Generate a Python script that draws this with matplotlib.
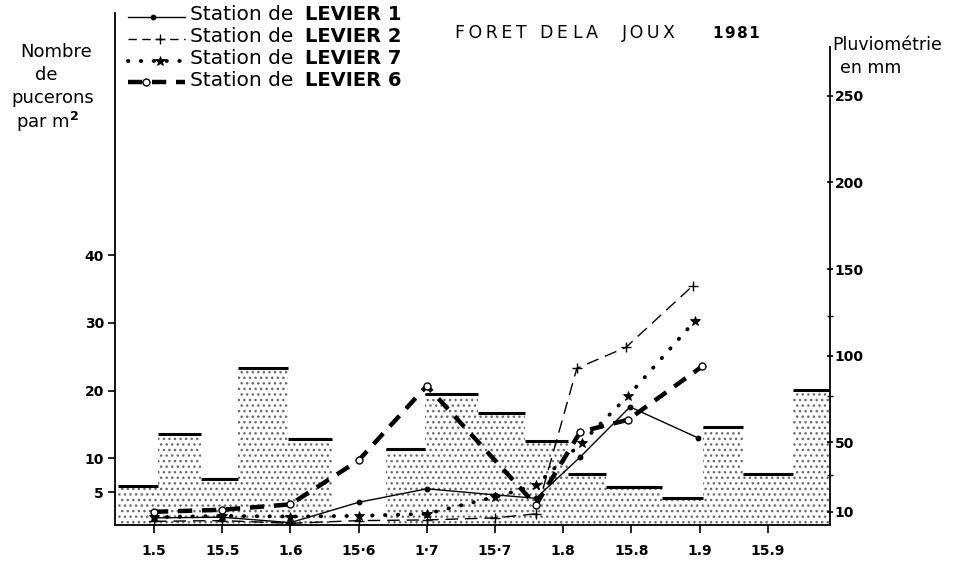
import matplotlib
matplotlib.use("Agg")
import matplotlib.pyplot as plt
from matplotlib.lines import Line2D

# ---------------- data ----------------
tick_labels = ["1.5", "15.5", "1.6", "15·6", "1·7", "15·7", "1.8", "15.8", "1.9", "15.9"]
tick_pos = list(range(10))  # half-month index

# rainfall periods (edges in half-month units) and mm
rain_edges = [-0.53, 0.06, 0.69, 1.23, 1.96, 2.61, 3.40, 3.97, 4.75, 5.44,
              6.07, 6.63, 7.45, 8.05, 8.64, 9.37, 9.91]
rain_mm = [25, 55, 29, 93, 52, 0, 46, 78, 67, 51, 32, 24, 18, 59, 32, 80]

x_s1 = [0, 1, 2, 3, 4, 5, 5.6, 6.25, 6.98, 7.98]
y_s1 = [1.2, 1.3, 0.5, 3.5, 5.5, 4.6, 4.1, 10.2, 17.6, 13.0]

x_s2 = [0, 1, 2, 3, 4, 5, 5.6, 6.2, 6.92, 7.9]
y_s2 = [0.7, 0.8, 0.4, 0.8, 0.9, 1.2, 1.8, 23.3, 26.4, 35.5]

x_s7 = [0, 1, 2, 3, 4, 5, 5.6, 6.27, 6.95, 7.93]
y_s7 = [1.3, 1.5, 1.4, 1.5, 1.8, 4.3, 6.0, 12.3, 19.2, 30.3]

x_s6 = [0, 1, 2, 3, 4, 5.6, 6.25, 6.95, 8.04]
y_s6 = [2.1, 2.4, 3.2, 9.7, 20.7, 3.1, 13.9, 15.7, 23.6]

left_ticks = [5, 10, 20, 30, 40]
right_ticks = [10, 50, 100, 150, 200, 250]
right_minor = [31, 77, 123]

# ---------------- figure ----------------
W, H = 959, 561
fig = plt.figure(figsize=(W / 100, H / 100), dpi=100)
plt.rcParams['hatch.linewidth'] = 1.0

def fx(px):
    return px / W

def fy(py):
    return 1 - py / H

ax = fig.add_axes([fx(115), fy(525), fx(830) - fx(115), fy(13) - fy(525)])
ax2 = ax.twinx()
ax.set_zorder(2)
ax2.set_zorder(1)
ax.patch.set_visible(False)

ax.set_xlim(-0.572, 9.912)
ax.set_ylim(0.15, 75.8)
ax2.set_ylim(2.3, 297.8)

# rainfall bars
lefts = rain_edges[:-1]
widths = [b - a for a, b in zip(rain_edges[:-1], rain_edges[1:])]
ybot = ax2.get_ylim()[0]
heights = [v - ybot if v > 0 else 0 for v in rain_mm]
ax2.bar(lefts, heights, width=widths, bottom=ybot, align='edge',
        facecolor='white', edgecolor='#6a6a6a', linewidth=0, hatch='...')
tops_x0 = [a for a, v in zip(lefts, rain_mm) if v > 0]
tops_x1 = [a + w for a, w, v in zip(lefts, widths, rain_mm) if v > 0]
tops_y = [v for v in rain_mm if v > 0]
ax2.hlines(tops_y, tops_x0, tops_x1, colors='black', linewidth=2.2)

# aphid lines
ax.plot(x_s1, y_s1, color='black', lw=1.0, marker='o', ms=3.2,
        markerfacecolor='black', zorder=5)
ax.plot(x_s2, y_s2, color='black', lw=1.0, linestyle=(0, (9, 5)),
        marker='+', ms=7, mew=1.0, zorder=5)
ax.plot(x_s7, y_s7, color='black', lw=2.8, linestyle=(0, (0.1, 3.2)),
        dash_capstyle='round', solid_capstyle='round',
        marker='*', ms=7, mew=0.6, zorder=5)
ax.plot(x_s6, y_s6, color='black', lw=3.2, linestyle=(0, (3.2, 2.2)),
        marker='o', ms=5, mew=1.0, markerfacecolor='white', zorder=6)

# spines
for s in ['top']:
    ax.spines[s].set_visible(False)
    ax2.spines[s].set_visible(False)
ax.spines['right'].set_visible(False)
ax2.spines['left'].set_visible(False)
ax2.spines['bottom'].set_visible(False)
ax.spines['left'].set_linewidth(1.3)
ax.spines['bottom'].set_linewidth(1.3)
ax2.spines['right'].set_linewidth(1.3)
ax2.spines['right'].set_bounds(2.3, 278)

tick_font = dict(family='DejaVu Sans', weight='bold', size=10)

ax.set_xticks(tick_pos)
ax.set_xticklabels(tick_labels, fontdict=tick_font)
ax.tick_params(axis='x', direction='out', length=6, width=1.2, pad=8)

ax.set_yticks(left_ticks)
ax.set_yticklabels([str(t) for t in left_ticks], fontdict=tick_font)
ax.tick_params(axis='y', direction='out', length=5, width=1.2, pad=3)

ax2.set_yticks(right_ticks)
ax2.set_yticklabels([str(t) for t in right_ticks], fontdict=tick_font)
ax2.set_yticks(right_minor, minor=True)
ax2.tick_params(axis='y', which='major', direction='inout', length=5, width=1.2, pad=1)
ax2.tick_params(axis='y', which='minor', direction='inout', length=5, width=1.0)

# ---------------- texts ----------------
lab = dict(family='DejaVu Sans', size=13, ha='center', va='center')
fig.text(fx(56), fy(52), "Nombre", **lab)
fig.text(fx(46), fy(75), "de", **lab)
fig.text(fx(53), fy(98), "pucerons", **lab)
fig.text(fx(48), fy(122), "par m$^\\mathbf{2}$", **lab)

fig.text(fx(832), fy(45), "Pluviométrie", family='DejaVu Sans', size=12.5,
         ha='left', va='center')
fig.text(fx(840), fy(68), "en mm", family='DejaVu Sans', size=12.5,
         ha='left', va='center')

title_words = ["F\u2009O\u2009R\u2009E\u2009T", "D\u2009E", "L\u2009A", "J\u2009O\u2009U\u2009X"]
title_x = [455, 540, 573, 622]
for w, tx in zip(title_words, title_x):
    fig.text(fx(tx), fy(33), w, family='DejaVu Sans', size=12.5,
             ha='left', va='center')
fig.text(fx(713), fy(33), "1\u200a9\u200a8\u200a1", family='DejaVu Sans',
         weight='bold', size=11, ha='left', va='center')

# ---------------- legend ----------------
styles = [
    dict(color='black', lw=1.0, linestyle='-'),
    dict(color='black', lw=1.0, linestyle=(0, (6, 4))),
    dict(color='black', lw=2.8, linestyle=(0, (0.1, 3.2)), dash_capstyle='round'),
    dict(color='black', lw=3.2, linestyle=(0, (3.2, 2.2))),
]
marks = [
    dict(marker='o', ms=3.2, markerfacecolor='black', color='black'),
    dict(marker='+', ms=7, mew=1.0, color='black'),
    dict(marker='*', ms=7, mew=0.6, color='black'),
    dict(marker='o', ms=5, mew=1.0, markerfacecolor='white', color='black'),
]
mark_x = [153, 160, 160, 146]
names = ["1", "2", "7", "6"]
rows = [15, 37, 59, 80]
for st, mk, mx, nm, ry in zip(styles, marks, mark_x, names, rows):
    fig.add_artist(Line2D([fx(128), fx(185)], [fy(ry + 2), fy(ry + 2)],
                          transform=fig.transFigure, **st))
    fig.add_artist(Line2D([fx(mx)], [fy(ry + 2)], transform=fig.transFigure,
                          linestyle='none', **mk))
    fig.text(fx(190), fy(ry), "Station de", family='DejaVu Sans', size=14.5,
             ha='left', va='center')
    fig.text(fx(305), fy(ry), "LEVIER " + nm, family='DejaVu Sans',
             weight='bold', size=14, ha='left', va='center')

fig.savefig("out.png", dpi=100)
